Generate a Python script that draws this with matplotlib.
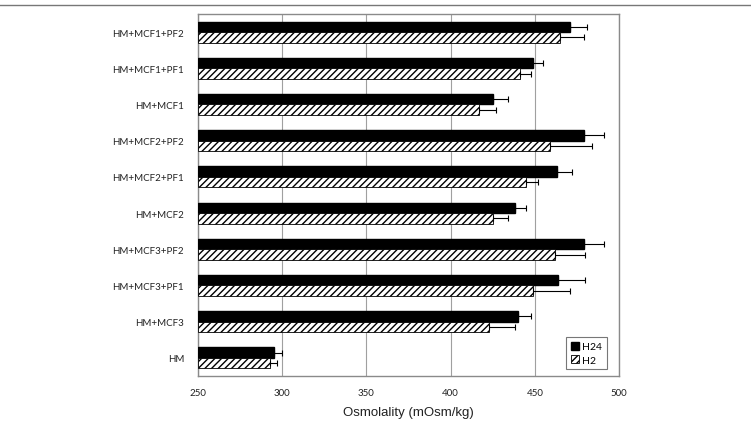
import matplotlib
matplotlib.use("Agg")
import matplotlib.pyplot as plt
import numpy as np
from matplotlib.lines import Line2D

plt.rcParams['hatch.linewidth'] = 1.0

# bottom to top
groups = ['HM', 'HM+MCF3', 'HM+MCF3+PF1', 'HM+MCF3+PF2', 'HM+MCF2',
          'HM+MCF2+PF1', 'HM+MCF2+PF2', 'HM+MCF1', 'HM+MCF1+PF1', 'HM+MCF1+PF2']
h24 = [295, 440, 464, 479, 438, 463, 479, 425, 449, 471]
h24_err = [5, 8, 16, 12, 7, 9, 12, 9, 6, 10]
h2 = [293, 423, 449, 462, 425, 445, 459, 417, 441, 465]
h2_err = [4, 15, 22, 18, 9, 7, 25, 10, 7, 14]

fig = plt.figure(figsize=(7.51, 4.31), dpi=100)
ax = fig.add_axes([0.2636, 0.1253, 0.5606, 0.8399])

y = np.arange(len(groups))
bh = 0.29
zeros = np.zeros(len(groups))
ekw = dict(ecolor='black', elinewidth=0.8, capsize=2, capthick=0.8)
ax.barh(y + bh / 2, np.array(h24) - 250, left=250, height=bh, color='black',
        edgecolor='black', xerr=[zeros, h24_err], error_kw=ekw,
        label='H24', zorder=3)
ax.barh(y - bh / 2, np.array(h2) - 250, left=250, height=bh, color='white',
        edgecolor='black', hatch='/////', linewidth=0.6, xerr=[zeros, h2_err],
        error_kw=ekw, label='H2', zorder=3)

ax.set_xlim(250, 500)
ax.set_ylim(-0.5, len(groups) - 0.5)
ax.set_xticks([250, 300, 350, 400, 450, 500])
ax.set_yticks(y)
ax.set_yticklabels(groups)
ax.tick_params(axis='both', length=0, labelsize=7, colors='#222222')
for lab in ax.get_xticklabels() + ax.get_yticklabels():
    lab.set_family('Lato')
ax.tick_params(axis='x', pad=9)
ax.tick_params(axis='y', pad=10)
ax.grid(axis='x', color='#a0a0a0', linewidth=0.8, zorder=0)
for s in ax.spines.values():
    s.set_color('#8a8a8a')
    s.set_linewidth(1.0)
ax.set_xlabel('Osmolality (mOsm/kg)', fontsize=9.5, color='#222222', labelpad=6,
              family='Liberation Sans')

leg = ax.legend(loc='lower right', prop={'family': 'Lato', 'size': 7.5}, frameon=True,
                fancybox=False, edgecolor='#555555', handlelength=0.8, handleheight=0.8,
                handletextpad=0.3, borderpad=0.45, labelspacing=0.35,
                bbox_to_anchor=(0.983, 0.004))
leg.get_frame().set_linewidth(0.8)

fig.add_artist(Line2D([0, 1], [0.986, 0.986], color='#777777', linewidth=1.0,
                      transform=fig.transFigure))

fig.savefig('out.png', dpi=100)
